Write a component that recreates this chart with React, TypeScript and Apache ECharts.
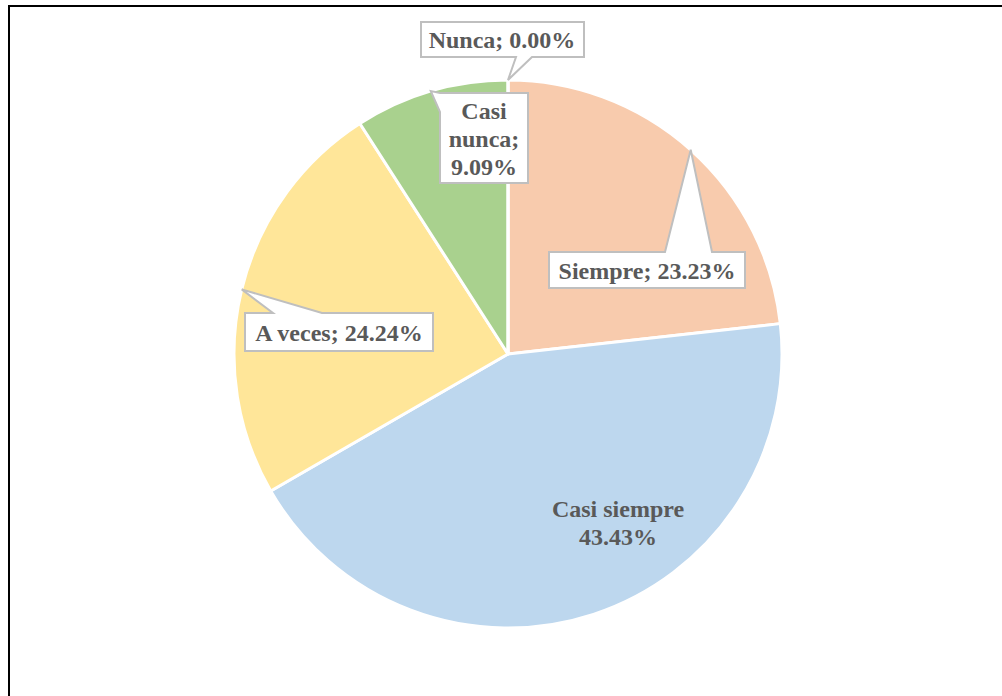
import React, { useEffect, useRef } from "react";
import * as echarts from "echarts";

const categories = ["Siempre", "Casi siempre", "A veces", "Casi nunca", "Nunca"];
const counts = [23, 43, 24, 9, 0];
const colors = ["#F8CBAD", "#BDD7EE", "#FFE699", "#A9D18E", "#C9C9C9"];

const CX = 508;
const CY = 354;
const R = 274;
const FONT = "'Liberation Serif', 'Times New Roman', serif";

// callout boxes: [x0, y0, x1, y1], wedge side and base range (layout only)
const callouts: Record<number, { box: number[]; side: string; base: number[]; center: number[] }> = {
  0: { box: [549, 252, 745, 288], side: "top", base: [665, 712], center: [647, 271] },
  2: { box: [245, 313, 433, 351], side: "top", base: [273, 322], center: [339, 333] },
  3: { box: [440, 93, 528, 183], side: "left", base: [93, 112], center: [484, 139] },
  4: { box: [421, 22, 584, 57], side: "bottom", base: [516, 532], center: [502, 40] },
};
const plainLabelCenter: Record<number, number[]> = { 1: [618, 523] };

const total = counts.reduce((a, b) => a + b, 0);

function tipPoint(i: number): number[] {
  let before = 0;
  for (let k = 0; k < i; k++) before += counts[k];
  const midFrac = (before + counts[i] / 2) / total;
  const ang = (90 - midFrac * 360) * (Math.PI / 180);
  return [CX + R * Math.cos(ang), CY - R * Math.sin(ang)];
}

function calloutPolygon(i: number): number[][] {
  const c = callouts[i];
  const [x0, y0, x1, y1] = c.box;
  const tip = tipPoint(i);
  const [b0, b1] = c.base;
  if (c.side === "top") {
    return [[x0, y0], [b0, y0], tip, [b1, y0], [x1, y0], [x1, y1], [x0, y1]];
  }
  if (c.side === "bottom") {
    return [[x0, y0], [x1, y0], [x1, y1], [b1, y1], tip, [b0, y1], [x0, y1]];
  }
  return [[x0, y0], [x1, y0], [x1, y1], [x0, y1], [x0, b1], tip, [x0, b0]];
}

export default function App() {
  const ref = useRef<HTMLDivElement>(null);
  useEffect(() => {
    if (!ref.current) return;
    const chart = echarts.init(ref.current, null, { renderer: "svg" });
    const graphics: any[] = [
      {
        type: "rect",
        shape: { x: 9, y: 6, width: 1100, height: 800 },
        style: { fill: "none", stroke: "#000", lineWidth: 2 },
        z: 1,
        silent: true,
      },
    ];
    Object.keys(callouts).forEach((k) => {
      const i = Number(k);
      graphics.push({
        type: "polygon",
        shape: { points: calloutPolygon(i) },
        style: { fill: "#FFFFFF", stroke: "#BFBFBF", lineWidth: 2 },
        z: 5,
        silent: true,
      });
    });
    const baseData = categories.map((name, i) => ({
      name,
      value: counts[i],
      itemStyle: { color: colors[i] },
    }));
    chart.setOption({
      animation: false,
      backgroundColor: "#FFFFFF",
      graphic: graphics,
      series: [
        {
          type: "pie",
          center: [CX, CY],
          radius: R,
          startAngle: 90,
          clockwise: true,
          silent: true,
          z: 2,
          data: baseData,
          itemStyle: { borderColor: "#FFFFFF", borderWidth: 3 },
          label: { show: false },
          labelLine: { show: false },
        },
        {
          type: "pie",
          center: [CX, CY],
          radius: R,
          startAngle: 90,
          clockwise: true,
          avoidLabelOverlap: false,
          silent: true,
          z: 10,
          data: categories.map((name, i) => ({ name, value: counts[i] })),
          itemStyle: { color: "rgba(0,0,0,0)", borderWidth: 0 },
          label: {
            show: true,
            position: "inside",
            fontFamily: FONT,
            fontWeight: "bold",
            fontSize: 24,
            lineHeight: 28,
            color: "#595959",
            align: "center",
            verticalAlign: "middle",
            formatter: (p: any) => {
              const pct = ((counts[p.dataIndex] / total) * 100).toFixed(2) + "%";
              if (p.dataIndex === 1) return p.name + "\n" + pct;
              if (p.dataIndex === 3) return "Casi\nnunca;\n" + pct;
              return p.name + "; " + pct;
            },
          },
          labelLine: { show: false },
          labelLayout: (params: any) => {
            const i = params.dataIndex;
            const c = callouts[i] ? callouts[i].center : plainLabelCenter[i];
            return { x: c[0], y: c[1], align: "center", verticalAlign: "middle" };
          },
        },
      ],
    });
    return () => chart.dispose();
  }, []);
  return (
    <div
      ref={ref}
      style={{ position: "fixed", left: 0, top: 0, width: 1002, height: 696 }}
    />
  );
}
